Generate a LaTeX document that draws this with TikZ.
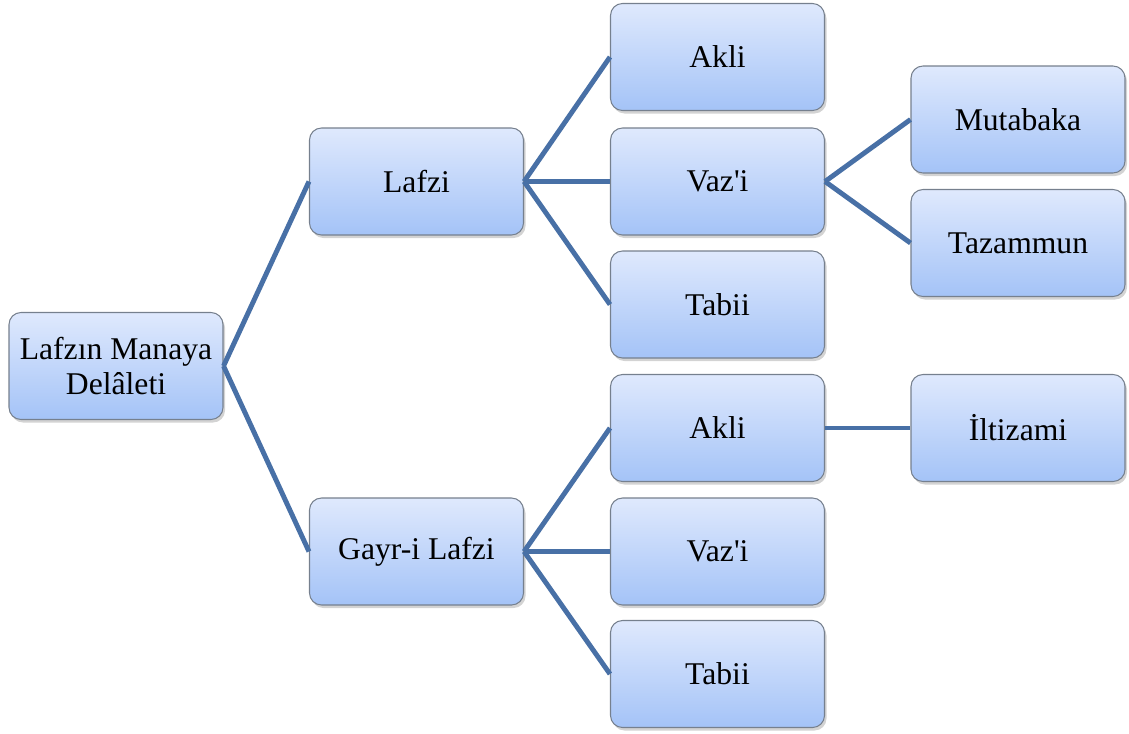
\documentclass[tikz,border=0pt]{standalone}
\usepackage{fontspec}
\setmainfont{Liberation Serif}
\usepackage{tikz}
\usetikzlibrary{shapes,arrows,positioning,calc,shadows}

\definecolor{boxtop}{RGB}{223,233,253}
\definecolor{boxbottom}{RGB}{164,195,247}
\definecolor{boxline}{RGB}{118,128,142}
\definecolor{branch}{RGB}{72,112,166}

\begin{document}
\begin{tikzpicture}[
        box/.style={draw=boxline, line width=0.6pt, rounded corners=0.24cm,
            top color=boxtop, bottom color=boxbottom,
            minimum width=4.28cm, minimum height=2.14cm, align=center,
            font=\fontsize{18}{20}\selectfont,
            drop shadow={shadow xshift=0.04cm, shadow yshift=-0.06cm, opacity=0.35}},
        link/.style={draw=branch, line width=2.8pt}
    ]
            \useasboundingbox (0,0) rectangle (22.58,-14.66);
            % root and first level
            \node [box] (Root) at (2.32,-7.32) {Lafzın Manaya\\Delâleti};
            \node [box] (Lafzi) at (8.33,-3.63) {Lafzi};
            \node [box] (Gayri) at (8.33,-11.03) {Gayr-i Lafzi};
            % second level
            \node [box] (AkliA) at (14.35,-1.14) {Akli};
            \node [box] (VaziA) at (14.35,-3.63) {Vaz\textquotesingle i};
            \node [box] (TabiiA) at (14.35,-6.09) {Tabii};
            \node [box] (AkliB) at (14.35,-8.56) {Akli};
            \node [box] (VaziB) at (14.35,-11.03) {Vaz\textquotesingle i};
            \node [box] (TabiiB) at (14.35,-13.48) {Tabii};
            % third level
            \node [box] (Mutabaka) at (20.36,-2.39) {Mutabaka};
            \node [box] (Tazammun) at (20.36,-4.86) {Tazammun};
            \node [box] (Iltizami) at (20.36,-8.56) {İltizami};
            % branches
            \draw [link] (Root.east) -- (Lafzi.west);
            \draw [link] (Root.east) -- (Gayri.west);
            \draw [link] (Lafzi.east) -- (AkliA.west);
            \draw [link] (Lafzi.east) -- (VaziA.west);
            \draw [link] (Lafzi.east) -- (TabiiA.west);
            \draw [link] (Gayri.east) -- (AkliB.west);
            \draw [link] (Gayri.east) -- (VaziB.west);
            \draw [link] (Gayri.east) -- (TabiiB.west);
            \draw [link] (VaziA.east) -- (Mutabaka.west);
            \draw [link] (VaziA.east) -- (Tazammun.west);
            \draw [link] (AkliB.east) -- (Iltizami.west);
        \end{tikzpicture}
\end{document}
